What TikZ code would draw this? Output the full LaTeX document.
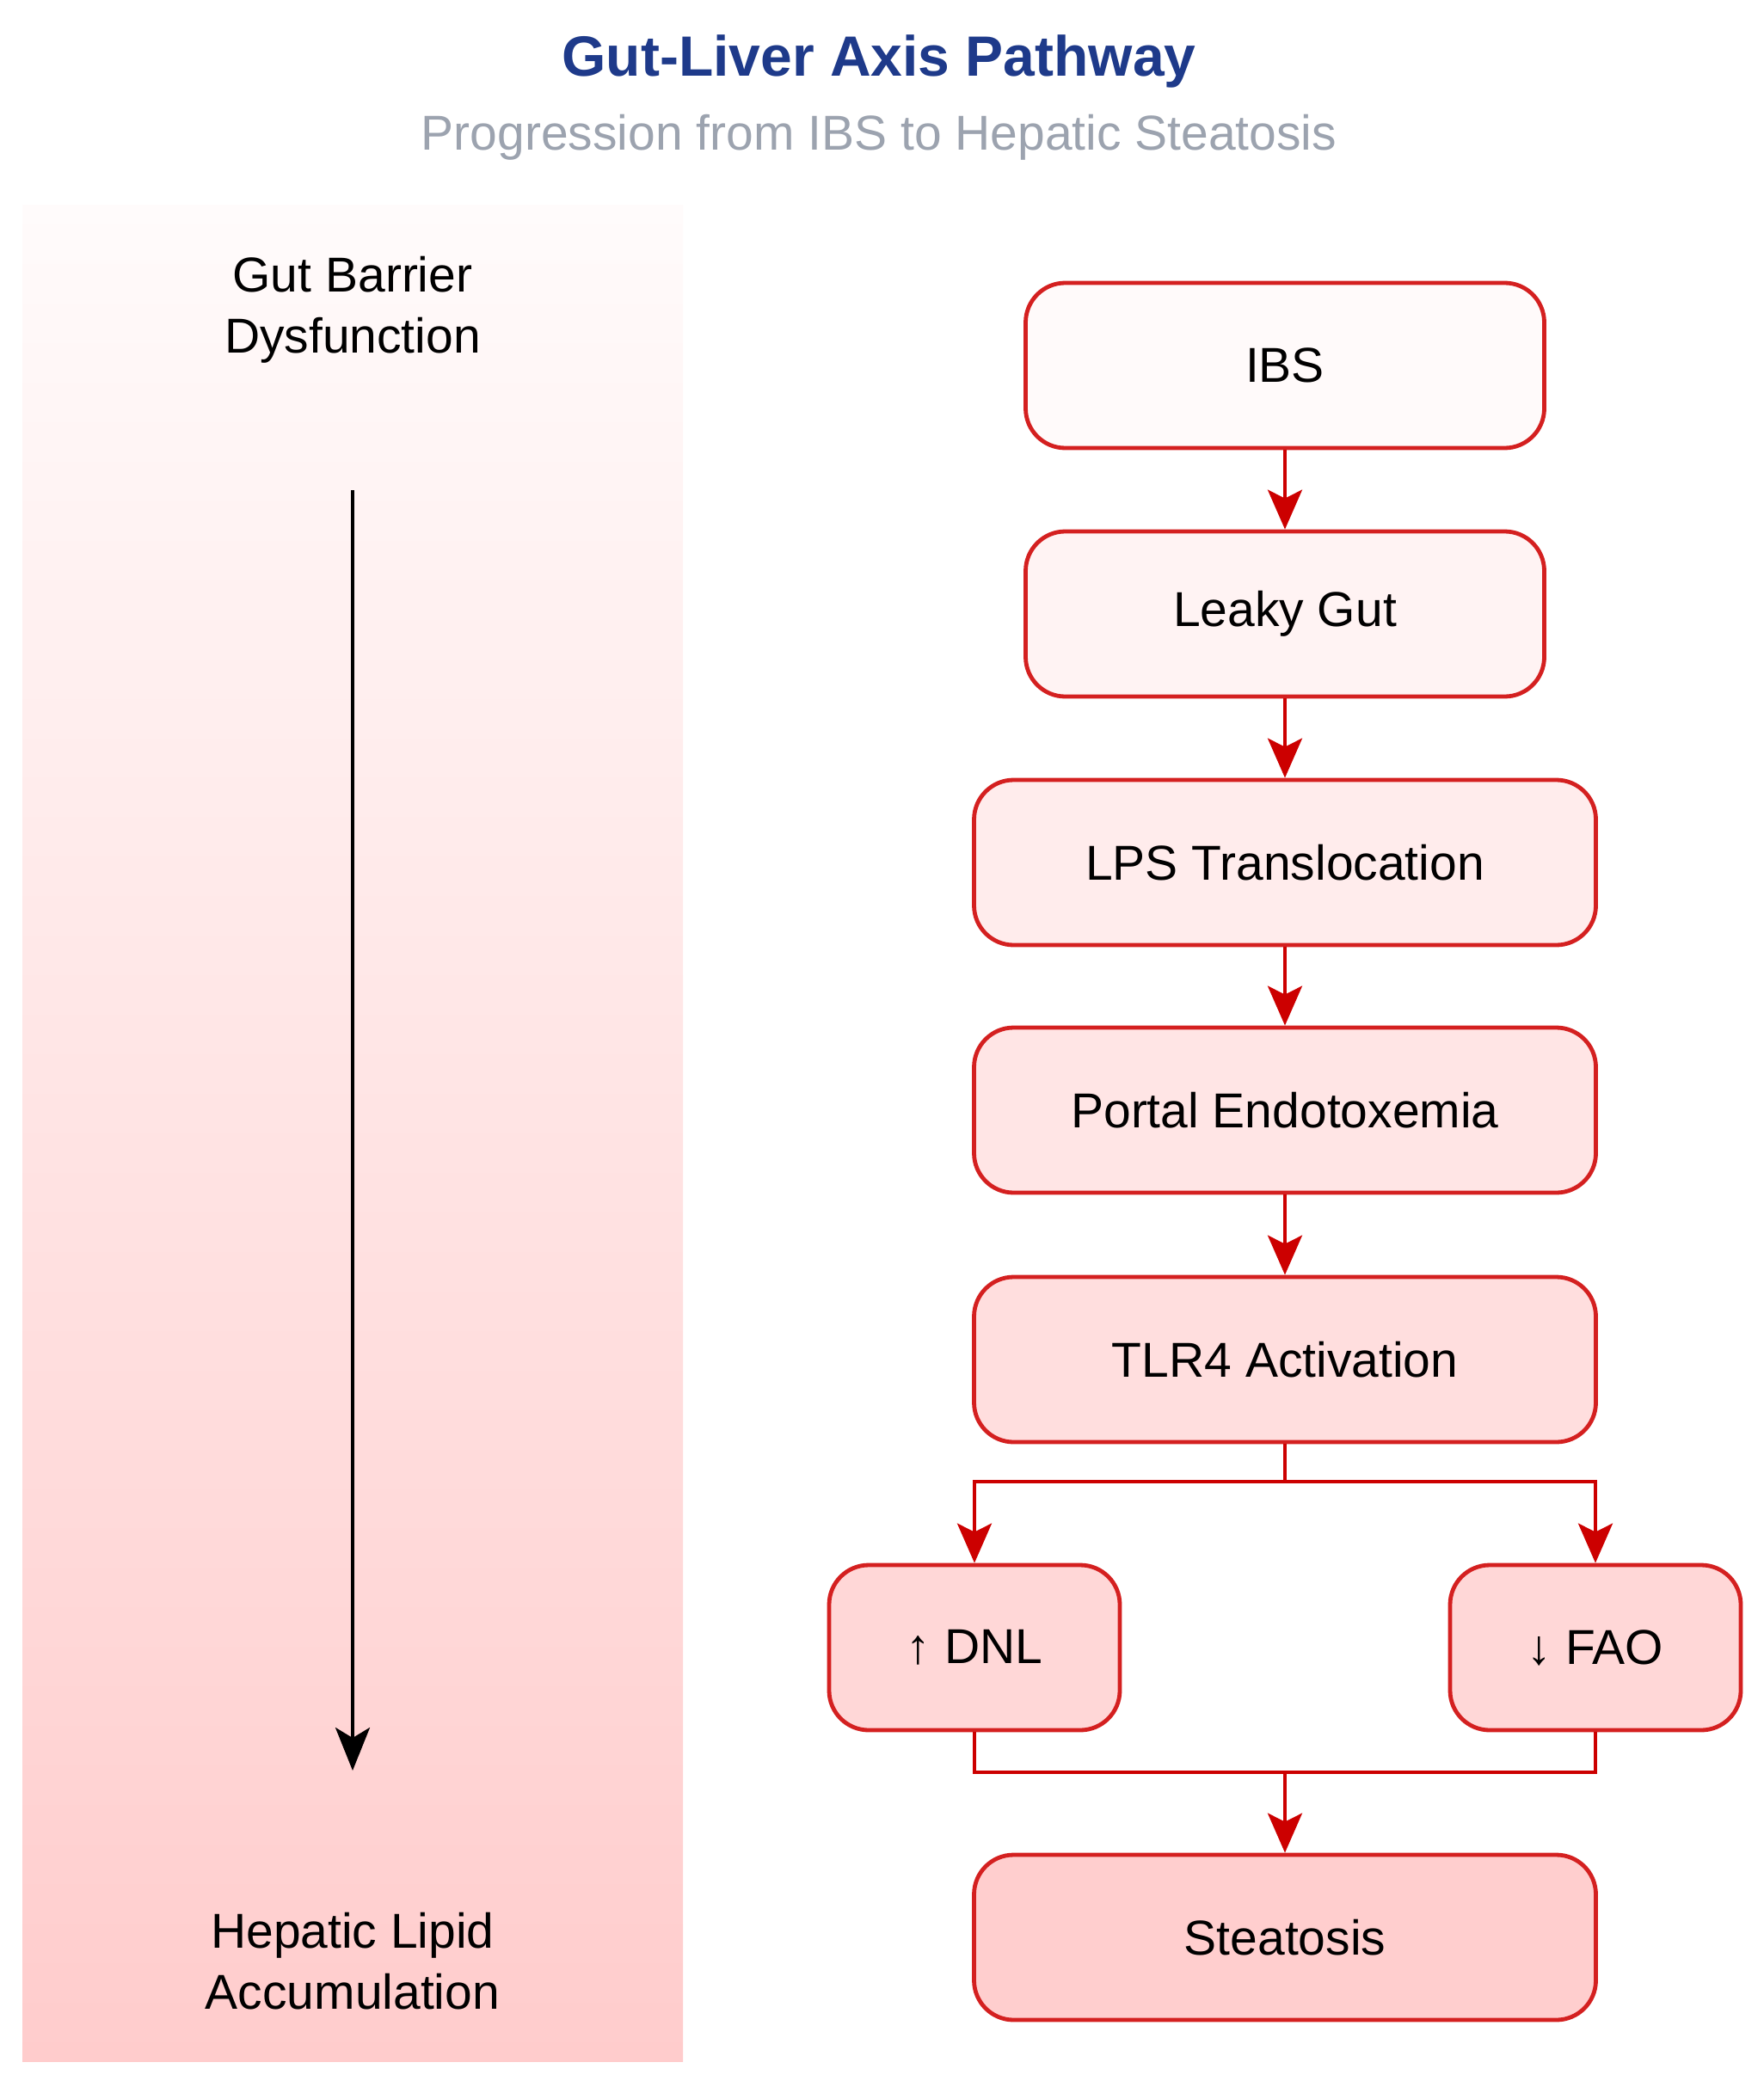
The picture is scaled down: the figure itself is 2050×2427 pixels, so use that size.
\documentclass[tikz,border=0pt]{standalone}
\usepackage{fontspec}
\setmainfont{Liberation Sans}
\usetikzlibrary{arrows.meta,calc}
\definecolor{boxred}{RGB}{212,32,32}
\definecolor{arrred}{RGB}{204,0,0}
\definecolor{titleblue}{RGB}{30,58,138}
\definecolor{subgray}{RGB}{156,163,175}
\definecolor{panelTop}{RGB}{255,251,251}
\definecolor{panelBot}{RGB}{255,204,204}
\definecolor{fA}{RGB}{255,250,250}
\definecolor{fB}{RGB}{255,243,243}
\definecolor{fC}{RGB}{255,236,236}
\definecolor{fD}{RGB}{255,229,229}
\definecolor{fE}{RGB}{255,222,222}
\definecolor{fF}{RGB}{255,215,215}
\definecolor{fG}{RGB}{255,206,206}
\begin{document}
\begin{tikzpicture}[x=1pt,y=-1pt,
  flowbox/.style={draw=boxred, line width=4.8pt, rounded corners=46pt,
    minimum height=192pt, inner sep=0pt, align=center,
    font=\fontsize{57}{68}\selectfont},
  conn/.style={draw=arrred, line width=4pt,
    -{Stealth[length=46pt,width=40pt,inset=10pt]}},
  plainline/.style={draw=arrred, line width=4pt},
  sidetext/.style={align=center, font=\fontsize{57}{71}\selectfont}]
\useasboundingbox (0,0) rectangle (2050,2427);
\fill[white] (0,0) rectangle (2050,2427);
% side panel
\shade[top color=panelTop, bottom color=panelBot] (26,238) rectangle (794,2397);
% titles
\node[font=\fontsize{66}{80}\selectfont\bfseries, text=titleblue] (title) at (1022,71) {Gut-Liver Axis Pathway};
\node[font=\fontsize{57}{68}\selectfont, text=subgray] (subtitle) at (1022,160) {Progression from IBS to Hepatic Steatosis};
% left side
\node[sidetext] (gbd) at (410,360) {Gut Barrier\\Dysfunction};
\node[sidetext] (hla) at (410,2281) {Hepatic Lipid\\Accumulation};
\coordinate (axs) at (410,570);
\coordinate (axe) at (410,2059);
\draw[line width=3.6pt, -{Stealth[length=50pt,width=40pt,inset=12pt]}] (axs) -- (axe);
% flow boxes
\node[flowbox, fill=fA, minimum width=603pt] (ibs) at (1494,425) {IBS};
\node[flowbox, fill=fB, minimum width=603pt] (leaky) at (1494,714) {Leaky Gut};
\node[flowbox, fill=fC, minimum width=723pt] (lps) at (1494,1003) {LPS Translocation};
\node[flowbox, fill=fD, minimum width=723pt] (portal) at (1494,1291) {Portal Endotoxemia};
\node[flowbox, fill=fE, minimum width=723pt] (tlr) at (1494,1581) {TLR4 Activation};
\node[flowbox, fill=fF, minimum width=338pt] (dnl) at (1133,1916) {↑ DNL};
\node[flowbox, fill=fF, minimum width=338pt] (fao) at (1855,1916) {↓ FAO};
\node[flowbox, fill=fG, minimum width=723pt] (steat) at (1494,2253) {Steatosis};
% connectors
\draw[conn] (ibs) -- (leaky);
\draw[conn] (leaky) -- (lps);
\draw[conn] (lps) -- (portal);
\draw[conn] (portal) -- (tlr);
\coordinate (split) at (1494,1723);
\draw[plainline] (tlr.south) -- (split);
\draw[conn] (split) -| (dnl.north);
\draw[conn] (split) -| (fao.north);
\coordinate (join) at (1494,2061);
\draw[plainline] (dnl.south) |- (join);
\draw[plainline] (fao.south) |- (join);
\draw[conn] (join) -- (steat.north);
\end{tikzpicture}
\end{document}
